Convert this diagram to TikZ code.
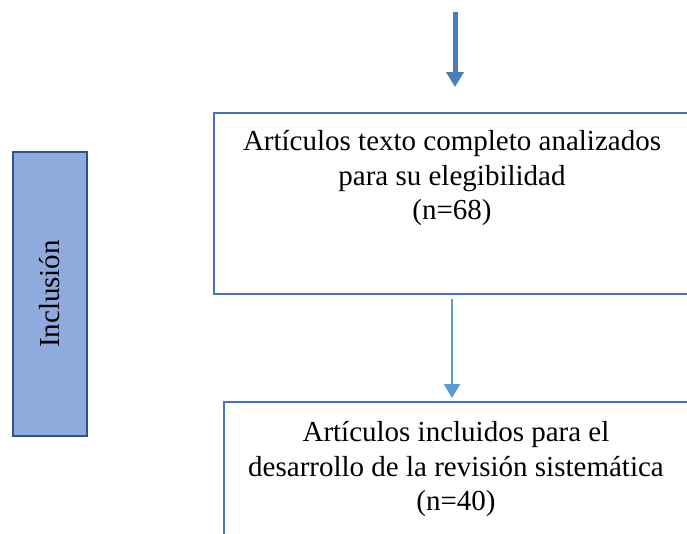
\documentclass[tikz,border=0pt]{standalone}
\usepackage{fontspec}
\setmainfont{Liberation Serif}
\usetikzlibrary{arrows.meta}
\definecolor{boxblue}{HTML}{4472C4}
\definecolor{arrdark}{HTML}{4A7EBB}
\definecolor{arrlight}{HTML}{5B9BD5}
\definecolor{barfill}{HTML}{8FAADC}
\definecolor{barline}{HTML}{2F528F}
\tikzset{
  flowbox/.style={draw=boxblue, line width=2pt, rectangle, inner sep=0pt, anchor=north west},
  flowtext/.style={font=\fontsize{29}{34.5}\selectfont, align=center, inner sep=0pt},
  bigarrow/.style={draw=arrdark, line width=5pt, -{Triangle[width=17pt,length=15pt]}},
  smallarrow/.style={draw=arrlight, line width=2.4pt, -{Triangle[width=16pt,length=14pt]}},
  sidebar/.style={draw=barline, fill=barfill, line width=2pt, rectangle, inner sep=0pt, anchor=north west}
}
\begin{document}
\begin{tikzpicture}[x=1pt,y=-1pt]
\useasboundingbox (0,0) rectangle (687,533);
\clip (0,0) rectangle (687,533);
\node[flowbox, minimum width=490pt, minimum height=181pt] (b1) at (213,112) {};
\node[flowbox, minimum width=480pt, minimum height=170pt] (b2) at (223,401) {};
\node[flowtext] (t1) at (452,178) {Artículos texto completo analizados\\para su elegibilidad\\(n=68)};
\node[flowtext] (t2) at (456,469) {Artículos incluidos para el\\desarrollo de la revisión sistemática\\(n=40)};
\node[sidebar, minimum width=74pt, minimum height=284pt] (bar) at (12,151) {};
\node[flowtext, rotate=90] (lbl) at (bar.center) {Inclusión};
\coordinate (a1s) at (455,12);
\coordinate (a1e) at (455,87);
\coordinate (a2s) at (452,299);
\coordinate (a2e) at (452,398);
\draw[bigarrow] (a1s) -- (a1e);
\draw[smallarrow] (a2s) -- (a2e);
\end{tikzpicture}
\end{document}
